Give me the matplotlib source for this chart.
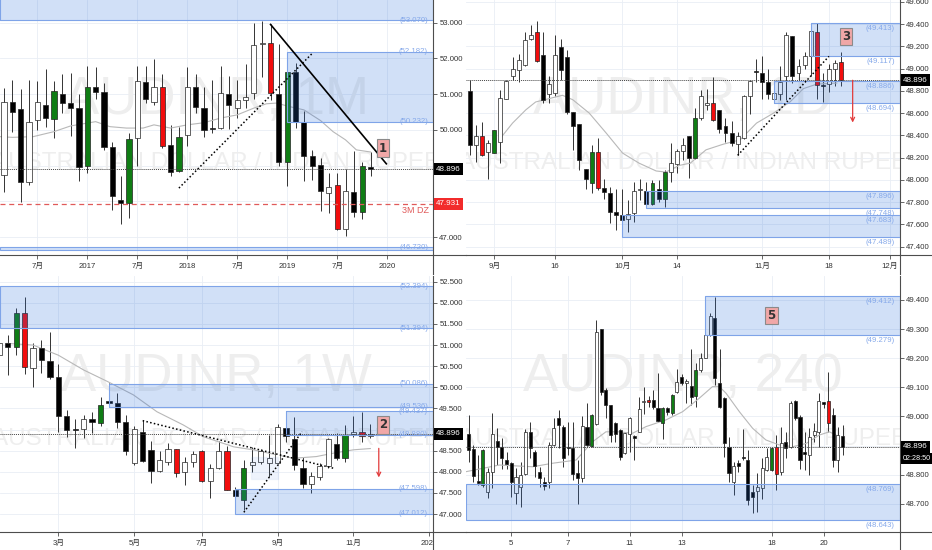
import numpy as np
import matplotlib
matplotlib.use('Agg')
import matplotlib.pyplot as plt
from matplotlib.patches import Rectangle
from matplotlib.lines import Line2D
from matplotlib.transforms import blended_transform_factory, Bbox, TransformedBbox

# ---------------- data: AUDINR monthly (top left) ----------------
mo_x = list(range(-10, 35))          # months, 0 = Jan 2017
mo_open = [48.74, 50.77, 50.59, 48.53, 50.28, 50.69, 50.30, 51.01, 50.75, 50.62,
           48.98, 51.19, 51.07, 49.51, 48.03, 47.95, 49.77, 51.34, 50.79, 51.19, 49.57, 48.84,
           49.86, 51.19, 50.61, 50.05, 50.05, 51.01, 50.61, 50.84, 51.04, 52.40, 52.42, 51.00,
           49.10, 51.61, 50.21, 49.27, 49.02, 48.23, 48.46, 47.22, 48.25, 47.69, 48.95]
mo_high = [51.16, 51.40, 51.14, 51.40, 51.37, 51.70, 51.38, 51.56, 51.60, 51.00,
           51.79, 51.75, 51.30, 49.66, 48.72, 49.91, 51.79, 51.79, 51.98, 51.57, 50.13, 50.09,
           51.75, 51.57, 51.21, 51.40, 51.79, 51.51, 51.40, 51.84, 53.00, 53.05, 52.95, 52.39,
           51.79, 51.86, 50.53, 49.44, 49.21, 48.79, 48.79, 48.90, 49.42, 49.09, 49.39]
mo_low = [48.25, 49.95, 47.97, 48.46, 50.00, 50.07, 49.77, 50.48, 49.83, 48.56,
          48.79, 50.86, 49.44, 47.76, 47.36, 47.53, 48.98, 50.75, 50.70, 49.49, 48.70, 48.82,
          49.56, 50.48, 49.81, 49.91, 50.02, 50.02, 50.33, 50.61, 50.86, 51.49, 50.84, 48.98,
          48.42, 50.05, 48.58, 48.60, 47.72, 47.67, 47.20, 47.04, 47.55, 47.50, 48.70]
mo_close = [50.79, 50.51, 48.54, 50.23, 50.77, 50.33, 51.09, 50.75, 50.62, 48.96,
            51.21, 51.07, 49.53, 48.16, 47.95, 49.75, 51.36, 50.86, 51.19, 49.56, 48.81, 49.80,
            51.21, 50.65, 50.00, 50.02, 51.02, 50.70, 50.84, 50.91, 52.38, 52.42, 51.02, 49.10,
            51.63, 50.23, 49.27, 49.00, 48.28, 48.39, 47.22, 48.29, 47.69, 48.98, 48.896]
mo_green = [-4, 0, 5, 11, 24, 33]
mo_red = [9, 22, 30]
mo_ma_x = [-10.5, -9, -6.5, -4, -2, 0, 1, 2.7, 4.7, 6.7, 8, 10, 12, 14, 16, 18, 20, 21.5,
           22.7, 24.3, 26, 28, 29.5, 31, 32.3, 34]
mo_ma_y = [49.81, 49.79, 49.81, 49.95, 50.11, 50.19, 50.23, 50.09, 50.05, 50.05, 50.14, 50.05,
           50.14, 50.20, 50.33, 50.42, 50.61, 50.73, 50.75, 50.65, 50.56, 50.26, 49.95, 49.72,
           49.44, 49.38]
mo_ticks = [-6, 0, 6, 12, 18, 24, 30, 36]
mo_tick_labels = ['7月', '2017', '7月', '2018', '7月', '2019', '7月', '2020']
mo_zones = [(None, 53.07, 53.80), (24, 50.232, 52.182), (None, 46.63, 46.72)]
mo_zone_labels = [53.070, 52.182, 50.232, 46.720]
mo_dz = 47.931

# ---------------- data: daily (top right) ----------------
d_x = list(range(-4, 58))            # trading days, 0 = 2 Sep 2019
d_open = [48.80, 48.31, 48.39, 48.25,
          48.24, 48.34, 48.73, 48.93, 48.99, 49.03, 49.27, 49.33, 49.12, 48.77,
          48.78, 49.19, 49.10, 48.61, 48.50, 48.10, 47.97, 48.25, 47.93, 47.88,
          47.71, 47.68, 47.65, 47.70, 47.91, 47.90, 47.78, 47.92, 47.83, 48.07,
          48.14, 48.26, 48.39, 48.20, 48.56, 48.67, 48.69, 48.63, 48.48, 48.42,
          48.32, 48.38, 48.75, 48.98, 48.96, 48.88, 48.73, 48.77, 48.93, 49.29,
          48.96, 49.03, 49.11, 49.33, 48.85, 48.86, 49.00, 49.06]
d_high = [48.90, 48.49, 48.52, 48.36,
          48.45, 48.81, 48.90, 49.10, 49.13, 49.33, 49.39, 49.43, 49.33, 48.93,
          49.30, 49.27, 49.17, 48.61, 48.50, 48.10, 48.31, 48.38, 48.01, 47.94,
          47.92, 47.92, 47.82, 47.98, 48.01, 47.98, 48.00, 48.00, 48.09, 48.33,
          48.28, 48.38, 48.39, 48.65, 48.81, 48.82, 48.92, 48.63, 48.56, 48.53,
          48.43, 48.76, 48.90, 49.09, 49.11, 49.00, 48.85, 49.02, 49.33, 49.29,
          49.09, 49.15, 49.35, 49.41, 48.96, 49.04, 49.08, 49.15]
d_low = [48.22, 48.16, 48.21, 48.01,
         48.24, 48.15, 48.73, 48.90, 48.88, 49.02, 49.26, 49.06, 48.69, 48.69,
         48.75, 48.90, 48.59, 48.27, 48.09, 47.92, 47.88, 47.91, 47.83, 47.61,
         47.55, 47.55, 47.53, 47.62, 47.82, 47.77, 47.77, 47.80, 47.76, 47.98,
         48.06, 48.18, 48.02, 48.19, 48.54, 48.63, 48.53, 48.42, 48.34, 48.30,
         48.22, 48.37, 48.59, 48.88, 48.73, 48.73, 48.69, 48.72, 48.72, 48.87,
         48.90, 49.00, 48.93, 48.73, 48.70, 48.79, 48.84, 48.84]
d_close = [48.31, 48.39, 48.22, 48.33,
           48.45, 48.74, 48.89, 49.00, 49.08, 49.26, 49.30, 49.07, 48.72, 48.86,
           49.12, 48.99, 48.61, 48.48, 48.18, 48.01, 48.25, 47.93, 47.89, 47.71,
           47.68, 47.64, 47.69, 47.90, 47.92, 47.78, 47.97, 47.83, 48.07, 48.15,
           48.26, 48.31, 48.20, 48.56, 48.75, 48.69, 48.54, 48.46, 48.42, 48.33,
           48.39, 48.75, 48.89, 48.97, 48.88, 48.77, 48.78, 48.88, 49.30, 48.93,
           49.02, 49.11, 49.34, 48.85, 48.84, 49.00, 49.05, 48.896]
d_green = [0, 16, 26, 28, 33]
d_red = [-2, 7, 17, 36, 53, 57]
d_ma_x = [0.8, 3, 5.2, 6.8, 9, 11.2, 12.9, 15.6, 18.4, 21.1, 23.8, 26.6, 28.2, 30.4, 32.2,
          34.8, 37.6, 40.4, 43.1, 45.9, 48.6, 50.8, 53.0, 56.3]
d_ma_y = [48.36, 48.51, 48.63, 48.70, 48.73, 48.76, 48.72, 48.60, 48.42, 48.24, 48.15, 48.08,
          48.07, 48.13, 48.15, 48.27, 48.32, 48.36, 48.51, 48.60, 48.70, 48.82, 48.86, 48.87]
d_ticks = [0, 10, 21, 30, 44, 55, 65]
d_tick_labels = ['9月', '16', '10月', '14', '11月', '18', '12月']
d_zones = [(52, 49.117, 49.413), (46, 48.694, 48.886), (25, 47.748, 47.896), (21, 47.489, 47.683)]
d_zone_labels = [49.413, 49.117, 48.886, 48.694, 47.896, 47.748, 47.683, 47.489]

# ---------------- data: weekly (bottom left) ----------------
w_x = list(range(-7, 38))            # weeks, 0 = 4 Mar 2019
w_open = [50.76, 51.04, 50.96, 51.77, 50.45, 50.94, 50.62,
          50.24, 49.32, 49.01, 49.01, 49.26, 49.15, 49.68, 49.62, 49.19, 48.20,
          48.95, 48.52, 48.02, 48.22, 48.54, 48.00, 48.24, 48.48, 47.79, 48.08,
          48.48, 47.58, 47.32, 48.16, 48.24, 48.20, 48.20, 49.03, 48.77, 48.10,
          47.70, 47.88, 48.14, 48.66, 48.32, 48.89, 48.95, 48.85]
w_high = [51.24, 51.24, 51.88, 52.14, 51.04, 51.12, 51.32,
          50.54, 49.46, 49.26, 49.34, 49.41, 49.78, 50.09, 49.86, 49.34, 49.09,
          49.23, 48.74, 48.48, 48.67, 48.54, 48.36, 48.48, 48.52, 48.18, 48.74,
          48.62, 47.63, 48.28, 48.59, 48.55, 48.87, 49.12, 49.44, 49.30, 48.36,
          48.00, 48.20, 48.79, 48.91, 49.11, 49.32, 49.41, 49.12]
w_low = [50.69, 50.29, 50.76, 50.31, 50.01, 50.35, 50.20,
         48.95, 48.83, 48.57, 48.79, 48.91, 49.09, 49.53, 49.03, 48.40, 48.16,
         48.22, 47.73, 48.00, 48.16, 47.88, 47.69, 48.12, 47.75, 47.39, 48.06,
         47.57, 47.08, 47.10, 48.00, 48.18, 47.88, 48.18, 48.71, 48.04, 47.61,
         47.49, 47.80, 48.08, 48.28, 48.22, 48.83, 48.71, 48.79]
w_close = [51.04, 50.96, 51.75, 50.47, 50.94, 50.65, 50.25,
           49.32, 49.00, 49.00, 49.26, 49.17, 49.58, 49.64, 49.19, 48.48, 49.01,
           48.26, 48.03, 48.28, 48.55, 47.98, 48.24, 48.41, 47.78, 48.10, 48.50,
           47.58, 47.43, 48.10, 48.24, 48.50, 48.32, 49.07, 48.85, 48.16, 47.70,
           47.91, 48.14, 48.77, 48.32, 48.87, 48.93, 48.85, 48.896]
w_green = [-5, 5, 22, 34]
w_red = [-4, 14, 17, 20, 36]
w_ma_x = [-6.1, -3, 0, 3, 5.9, 8.9, 11.7, 14.8, 17.2, 20.8, 23.1, 25.9, 27.9, 30.6, 32.6, 35, 37]
w_ma_y = [51.04, 51.00, 50.76, 50.41, 50.13, 49.82, 49.42, 49.11, 48.83, 48.59, 48.52, 48.40,
          48.32, 48.36, 48.44, 48.52, 48.55]
w_ticks = [0, 9, 17, 26, 35, 44]
w_tick_labels = ['3月', '5月', '7月', '9月', '11月', '2020']
w_zones = [(None, 51.394, 52.394), (6, 49.536, 50.086), (27, 48.880, 49.437), (21, 47.012, 47.598)]
w_zone_labels = [52.394, 51.394, 50.086, 49.536, 49.437, 48.880, 47.598, 47.012]

# ---------------- data: 4 hour (bottom right) ----------------
h_x = list(range(0, 80))             # 4h bars
h_open = [48.938, 48.888, 48.778, 48.764, 48.741, 48.810, 48.915, 48.896, 48.850, 48.839,
          48.738, 48.758, 48.801, 48.945, 48.879, 48.808, 48.773, 48.773, 48.902, 48.993,
          48.965, 48.896, 48.890, 48.807, 48.789, 48.962, 48.899, 48.973, 49.299, 49.091,
          49.039, 48.978, 48.953, 48.873, 48.938, 48.933, 48.947, 49.050, 49.056, 49.055,
          49.030, 48.976, 49.030, 49.010, 49.083, 49.134, 49.114, 49.104, 49.070, 49.159,
          49.202, 49.280, 49.337, 49.114, 49.062, 48.896, 48.776, 48.839, 48.862, 48.850,
          48.739, 48.744, 48.753, 48.816, 48.815, 48.896, 48.810, 48.913, 48.896, 49.053,
          48.999, 48.879, 48.867, 48.936, 48.947, 49.048, 49.053, 49.005, 48.850, 48.933]
h_high = [49.005, 48.902, 48.867, 48.888, 48.822, 49.010, 48.959, 48.925, 48.879, 48.844,
          48.824, 48.844, 48.957, 48.980, 48.885, 48.827, 48.793, 48.913, 48.993, 49.022,
          48.970, 48.982, 48.982, 48.850, 49.001, 49.045, 49.007, 49.331, 49.300, 49.096,
          49.040, 48.982, 48.957, 48.945, 48.999, 48.936, 49.068, 49.102, 49.071, 49.091,
          49.148, 49.033, 49.033, 49.076, 49.162, 49.145, 49.128, 49.232, 49.182, 49.217,
          49.308, 49.354, 49.411, 49.232, 49.068, 48.930, 48.844, 48.850, 48.956, 48.884,
          48.764, 48.804, 48.858, 48.892, 48.896, 48.936, 48.965, 48.947, 49.053, 49.056,
          49.005, 48.947, 48.959, 48.976, 49.079, 49.051, 49.154, 49.028, 48.965, 48.970]
h_low = [48.844, 48.776, 48.764, 48.758, 48.721, 48.753, 48.833, 48.821, 48.821, 48.724,
         48.698, 48.690, 48.799, 48.856, 48.793, 48.758, 48.747, 48.753, 48.899, 48.890,
         48.827, 48.867, 48.781, 48.698, 48.776, 48.896, 48.896, 48.970, 49.073, 48.993,
         48.913, 48.913, 48.850, 48.870, 48.879, 48.850, 48.945, 49.007, 49.033, 49.025,
         48.982, 48.921, 49.005, 49.005, 49.079, 49.108, 49.045, 49.039, 49.033, 49.154,
         49.200, 49.276, 49.108, 49.028, 48.862, 48.773, 48.730, 48.810, 48.850, 48.695,
         48.667, 48.670, 48.718, 48.812, 48.812, 48.747, 48.799, 48.858, 48.892, 48.988,
         48.821, 48.816, 48.799, 48.913, 48.896, 49.030, 48.947, 48.827, 48.810, 48.867]
h_close = [48.884, 48.795, 48.770, 48.884, 48.810, 48.938, 48.896, 48.856, 48.836, 48.773,
           48.793, 48.799, 48.945, 48.890, 48.831, 48.787, 48.762, 48.902, 48.959, 48.970,
           48.858, 48.893, 48.801, 48.787, 48.967, 48.902, 49.005, 49.291, 49.085, 49.039,
           48.936, 48.938, 48.862, 48.942, 48.996, 48.927, 49.025, 49.053, 49.051, 49.033,
           48.984, 49.030, 49.016, 49.073, 49.119, 49.114, 49.122, 49.068, 49.159, 49.200,
           49.280, 49.346, 49.131, 49.033, 48.907, 48.804, 48.831, 48.831, 48.856, 48.713,
           48.724, 48.758, 48.824, 48.862, 48.890, 48.803, 48.910, 48.892, 49.045, 48.993,
           48.850, 48.870, 48.930, 48.950, 49.053, 49.044, 48.978, 48.850, 48.936, 48.896]
h_green = [3, 26, 41, 43, 48, 64]
h_red = [38, 65, 76]
h_ma_x = [-0.6, 6.5, 13.5, 17.7, 22.7, 26.2, 29, 31.8, 34.6, 37.5, 41.7, 45.2, 48.7, 51.5, 53,
          54.4, 57.2, 60, 62.8, 65.6, 68.5, 71.3, 74.1, 76.2, 77.6]
h_ma_y = [48.81, 48.833, 48.827, 48.839, 48.850, 48.913, 48.947, 48.947, 48.942, 48.965, 48.988,
          49.016, 49.062, 49.102, 49.102, 49.079, 49.016, 48.959, 48.919, 48.902, 48.896, 48.907,
          48.936, 48.947, 48.936]
h_ticks = [9, 21, 34, 45, 64, 75]
h_tick_labels = ['5', '7', '11', '13', '18', '20']
h_zones = [(50, 49.279, 49.412), (None, 48.643, 48.769)]
h_zone_labels = [49.412, 49.279, 48.769, 48.643]

last_price = 48.896

# ---------------- style ----------------
GREEN = '#0f7d14'
RED = '#f20d0d'
ZONE = '#2a6fdb'
ZONE_EDGE = '#7fa4e8'
ZONE_TXT = '#86a9ea'
GRID = '#e9eef5'
AXC = '#4d4d4d'
TXT = '#333333'
WM = '#eeeeee'
FONTS = ['Liberation Sans', 'Noto Sans CJK SC', 'DejaVu Sans']

W, H = 932, 550
fig = plt.figure(figsize=(W / 100, H / 100), dpi=100)
fig.set_facecolor('white')


def px_axes(x0, y0, x1, y1):
    ax = fig.add_axes([x0 / W, 1 - y1 / H, (x1 - x0) / W, (y1 - y0) / H])
    # extend the separators like the chart's price/time scales
    fig.add_artist(Line2D([x1 / W, min(x1 + 33, W) / W], [1 - y1 / H] * 2,
                          color=AXC, lw=0.8, transform=fig.transFigure))
    fig.add_artist(Line2D([x1 / W] * 2, [1 - y1 / H, 1 - (y1 + 19) / H],
                          color=AXC, lw=0.8, transform=fig.transFigure))
    return ax


def setup(ax, xlim, ylim, yticks, hidden, xticks, xlabels, title, sub):
    ax.set_xlim(xlim)
    ax.set_ylim(ylim)
    for s in ['top', 'left']:
        ax.spines[s].set_visible(False)
    for s in ['right', 'bottom']:
        ax.spines[s].set_color(AXC)
        ax.spines[s].set_linewidth(0.8)
    ax.yaxis.tick_right()
    ax.set_yticks(yticks)
    # labels hidden behind the price tags
    ax.set_yticklabels(['' if any(abs(v - h) < 1e-6 for h in hidden) else f'{v:.3f}'
                        for v in yticks])
    ax.set_xticks(xticks)
    ax.set_xticklabels(xlabels)
    ax.tick_params(axis='both', colors=AXC, labelcolor=TXT, length=3, width=0.6, labelsize=5.6)
    ax.tick_params(axis='y', pad=1.5)
    ax.tick_params(axis='x', pad=2.5)
    for lab in ax.get_xticklabels() + ax.get_yticklabels():
        lab.set_family(FONTS)
    ax.grid(True, color=GRID, lw=0.6)
    ax.set_axisbelow(True)
    # watermark
    ax.text(0.5, 0.607, title, transform=ax.transAxes, ha='center', va='center',
            fontsize=38, color=WM, family='Liberation Sans', zorder=0.6)
    ax.text(0.5, 0.362, sub, transform=ax.transAxes, ha='center', va='center',
            fontsize=17.5, color=WM, family='Liberation Sans', zorder=0.6, clip_on=True)


def candles(ax, x, o, h, l, c, green, red, width):
    x = np.asarray(x, float)
    o, h, l, c = (np.asarray(v, float) for v in (o, h, l, c))
    ax.vlines(x, l, h, color='#333333', lw=0.7, zorder=2)
    cols = []
    for xi, oi, ci in zip(x, o, c):
        if xi in green:
            cols.append(GREEN)
        elif xi in red:
            cols.append(RED)
        elif ci >= oi:
            cols.append('white')
        else:
            cols.append('black')
    rng = ax.get_ylim()[1] - ax.get_ylim()[0]
    height = np.maximum(np.abs(c - o), rng * 0.004)
    ax.bar(x, height, width, np.minimum(o, c), color=cols, edgecolor='#222222',
           linewidth=0.5, zorder=3)


def ma(ax, xs, ys):
    ax.plot(xs, ys, color='#b8b8b8', lw=0.8, zorder=2.5)


def zones(ax, zs):
    x0, x1 = ax.get_xlim()
    for start, lo, hi in zs:
        s = x0 if start is None else start
        ax.add_patch(Rectangle((s, lo), x1 - s, hi - lo, fc=ZONE, alpha=0.21, ec='none', zorder=4))
        ax.add_patch(Rectangle((s, lo), x1 - s, hi - lo, fc='none', ec=ZONE_EDGE, lw=0.8, zorder=4))


def zone_labels(ax, levels, dy, va):
    tr = blended_transform_factory(ax.transAxes, ax.transData)
    for v in levels:
        ax.annotate(f'({v:.3f})', xy=(1, v), xycoords=tr, xytext=(-5, dy),
                    textcoords='offset pixels', ha='right', va=va, fontsize=5.6,
                    color=ZONE_TXT, family='Liberation Sans', zorder=6)


def price_line(ax):
    ax.axhline(last_price, color='#444444', lw=0.7, ls=(0, (1, 1)), zorder=4.5)


def tag(ax, y, text, fc, dy=0, size=5.8):
    tr = blended_transform_factory(ax.transAxes, ax.transData)
    ax.annotate(text, xy=(1, y), xycoords=tr, xytext=(3, dy), textcoords='offset pixels',
                ha='left', va='center', fontsize=size, color='white', family='Liberation Sans',
                bbox=dict(boxstyle='square,pad=0.3', fc=fc, ec='none'),
                annotation_clip=False, zorder=10)


def num_box(ax, x, y, s):
    ax.text(x, y, s, ha='center', va='center', fontsize=8.5, fontweight='bold', color='#333333',
            bbox=dict(boxstyle='square,pad=0.18', fc='#f0a7a7', ec='#8a8a8a', lw=0.8), zorder=8)


def arrow(ax, x, y0, y1):
    ax.annotate('', xy=(x, y1), xytext=(x, y0),
                arrowprops=dict(arrowstyle='->', color='#e23b3b', lw=0.9, mutation_scale=7),
                zorder=7)


# ---------------- top left: 1M ----------------
ax1 = px_axes(0, 0, 433, 255)
setup(ax1, (-10.48, 41.5), (46.497, 53.635), np.arange(47, 53.5, 1.0), [48.0, 49.0],
      mo_ticks, mo_tick_labels, 'AUDINR, 1M', 'AUSTRALIAN DOLLAR / INDIAN RUPEE')
ma(ax1, mo_ma_x, mo_ma_y)
candles(ax1, mo_x, mo_open, mo_high, mo_low, mo_close, mo_green, mo_red, 0.62)
zones(ax1, mo_zones)
zone_labels(ax1, mo_zone_labels, 0, 'center')
price_line(ax1)
ax1.axhline(mo_dz, color='#e05a5a', lw=0.9, ls=(0, (4, 3)), zorder=4.5)
ax1.plot([22, 35.9], [52.95, 49.05], color='black', lw=1.2, zorder=5)
ax1.plot([11, 27], [48.37, 52.14], color='black', lw=1.1, ls=(0, (1, 1.5)), zorder=5)
num_box(ax1, 35.5, 49.49, '1')
tr1 = blended_transform_factory(ax1.transAxes, ax1.transData)
ax1.annotate('3M DZ', xy=(1, mo_dz), xycoords=tr1, xytext=(-4, -7), textcoords='offset pixels',
             ha='right', va='center', fontsize=6.5, color='#e05a5a', family='Liberation Sans')
tag(ax1, last_price, '48.896', 'black')
tag(ax1, mo_dz, '47.931', '#f22b2b')

# ---------------- top right: 1D ----------------
ax2 = px_axes(466, 0, 900, 255)
setup(ax2, (-4.65, 66.68), (47.325, 49.616), np.arange(47.4, 49.61, 0.2), [],
      d_ticks, d_tick_labels, 'AUDINR, 1D', 'AUSTRALIAN DOLLAR / INDIAN RUPEE')
ma(ax2, d_ma_x, d_ma_y)
candles(ax2, d_x, d_open, d_high, d_low, d_close, d_green, d_red, 0.65)
zones(ax2, d_zones)
zone_labels(ax2, d_zone_labels, -2, 'top')
price_line(ax2)
ax2.plot([40, 55], [48.22, 49.11], color='black', lw=1.1, ls=(0, (1, 1.5)), zorder=5)
num_box(ax2, 57.8, 49.29, '3')
arrow(ax2, 58.9, 48.92, 48.49)
tag(ax2, last_price, '48.896', 'black')

# ---------------- bottom left: 1W ----------------
ax3 = px_axes(0, 276, 433, 532)
setup(ax3, (-6.92, 44.43), (46.574, 52.635), np.arange(47.0, 52.51, 0.5), [49.0],
      w_ticks, w_tick_labels, 'AUDINR, 1W', 'AUSTRALIAN DOLLAR / INDIAN RUPEE')
clip = TransformedBbox(Bbox([[0, 0], [433 / W, 1]]), fig.transFigure)
for lab in ax3.get_xticklabels():
    lab.set_clip_box(clip)
    lab.set_clip_on(True)
ma(ax3, w_ma_x, w_ma_y)
candles(ax3, w_x, w_open, w_high, w_low, w_close, w_green, w_red, 0.62)
zones(ax3, w_zones)
ax3.add_patch(Rectangle((22.9, 47.83), 3.1, 0.53, fc=ZONE, alpha=0.08, ec='#6f98e3', lw=1.0, zorder=4))
zone_labels(ax3, w_zone_labels, 0, 'center')
price_line(ax3)
ax3.plot([10, 32.7], [49.21, 48.08], color='black', lw=1.1, ls=(0, (1, 1.5)), zorder=5)
ax3.plot([22, 28.9], [47.04, 48.95], color='black', lw=1.1, ls=(0, (1, 1.5)), zorder=5)
num_box(ax3, 38.5, 49.11, '2')
arrow(ax3, 38.0, 48.62, 47.80)
tag(ax3, last_price, '48.896', 'black')

# ---------------- bottom right: 240 ----------------
ax4 = px_axes(466, 276, 900, 532)
setup(ax4, (-0.56, 91.13), (48.603, 49.482), np.arange(48.7, 49.41, 0.1), [48.9],
      h_ticks, h_tick_labels, 'AUDINR, 240', 'AUSTRALIAN DOLLAR / INDIAN RUPEE')
ma(ax4, h_ma_x, h_ma_y)
candles(ax4, h_x, h_open, h_high, h_low, h_close, h_green, h_red, 0.65)
zones(ax4, h_zones)
zone_labels(ax4, h_zone_labels, -2, 'top')
price_line(ax4)
num_box(ax4, 64.0, 49.347, '5')
tag(ax4, last_price, '48.896', 'black')
tag(ax4, last_price, '02:28:50', 'black', dy=-12, size=5.2)

fig.savefig('out.png', dpi=100)
